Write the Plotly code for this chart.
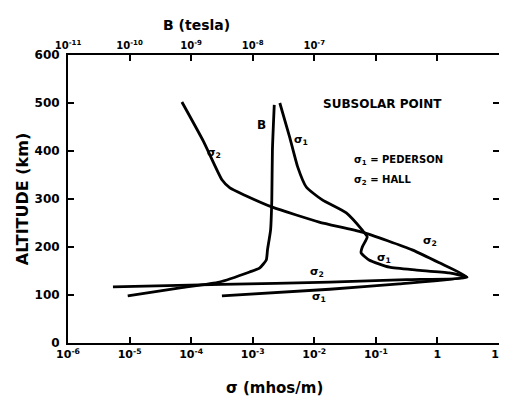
import plotly.graph_objects as go

# Hall conductivity sigma2 (mhos/m) vs altitude (km)
hall_alt = [502, 420, 340, 323, 308, 283, 252, 231, 194, 167, 137, 132, 127, 122, 117]
hall_sig = [10**-4.15, 10**-3.8, 10**-3.5, 10**-3.37, 10**-3.13, 10**-2.68, 10**-1.92, 10**-1.22,
            10**-0.41, 10**0.03, 10**0.48, 10**-0.5, 10**-1.75, 10**-3.5, 10**-5.27]

# Pedersen conductivity sigma1
ped_alt = [500, 429, 367, 325, 298, 271, 235, 221, 200, 188, 173, 158, 152, 146, 137, 123, 112, 98]
ped_sig = [10**-2.56, 10**-2.40, 10**-2.27, 10**-2.13, 10**-1.87, 10**-1.48, 10**-1.22, 10**-1.14,
           10**-1.22, 10**-1.24, 10**-1.11, 10**-0.78, 10**-0.34, 10**0.19, 10**0.48, 10**-0.62,
           10**-1.75, 10**-3.5]

# Magnetic field B (tesla)
b_alt = [496, 402, 298, 235, 194, 173, 156, 148, 127, 115, 98]
b_val = [10**-7.65, 10**-7.68, 10**-7.69, 10**-7.71, 10**-7.76, 10**-7.78, 10**-7.89, 10**-8.05,
         10**-8.54, 10**-9.18, 10**-10.03]

sig_ticks = [1e-6, 1e-5, 1e-4, 1e-3, 1e-2, 1e-1, 1, 10]
sig_labels = ["10<sup>-6</sup>", "10<sup>-5</sup>", "10<sup>-4</sup>", "10<sup>-3</sup>",
              "10<sup>-2</sup>", "10<sup>-1</sup>", "1", "10"]
b_ticks = [1e-11, 1e-10, 1e-9, 1e-8, 1e-7, 1e-6, 1e-5]
b_labels = ["10<sup>-11</sup>", "10<sup>-10</sup>", "10<sup>-9</sup>", "10<sup>-8</sup>",
            "10<sup>-7</sup>", "", ""]
alt_ticks = [0, 100, 200, 300, 400, 500, 600]

FONT = "DejaVu Sans"
lw = 2.8

fig = go.Figure()
for xs, ys, ax in [(hall_sig, hall_alt, "x"), (ped_sig, ped_alt, "x"), (b_val, b_alt, "x2")]:
    fig.add_trace(go.Scatter(x=xs, y=ys, mode="lines",
                             line=dict(color="black", width=lw, shape="spline", smoothing=0.5),
                             xaxis=ax, yaxis="y"))

ann = []
def lab(text, x, y, size=11, xanchor="center"):
    ann.append(dict(text=text, x=x, y=y, xref="x", yref="y", showarrow=False,
                    font=dict(family=FONT, size=size, color="black", weight="bold"), xanchor=xanchor))

lab("σ<sub>2</sub>", -3.63, 396)
lab("σ<sub>1</sub>", -2.22, 423)
lab("B", -2.86, 454, size=12)
lab("SUBSOLAR POINT", -0.89, 497, size=12)
lab("σ<sub>1</sub> = PEDERSON", -1.38, 381, size=10, xanchor="left")
lab("σ<sub>2</sub> = HALL", -1.38, 338, size=10, xanchor="left")
lab("σ<sub>2</sub>", -0.12, 212)
lab("σ<sub>1</sub>", -0.86, 177)
lab("σ<sub>2</sub>", -1.95, 148)
lab("σ<sub>1</sub>", -1.92, 96)

ann.append(dict(text="σ (mhos/m)", x=0.48, y=-0.156, xref="paper", yref="paper", showarrow=False,
                font=dict(family=FONT, size=15, color="black", weight="bold"),
                xanchor="center", yanchor="middle"))
ann.append(dict(text="B (tesla)", x=0.297, y=1.104, xref="paper", yref="paper", showarrow=False,
                font=dict(family=FONT, size=14, color="black", weight="bold"),
                xanchor="center", yanchor="middle"))

fig.update_layout(
    width=499, height=394,
    margin=dict(l=60, r=8, t=47, b=59),
    paper_bgcolor="white", plot_bgcolor="white",
    showlegend=False,
    font=dict(family=FONT, color="black"),
    annotations=ann,
    xaxis=dict(type="log", range=[-6, 1], tickvals=sig_ticks, ticktext=sig_labels, automargin=False,
               ticks="inside", ticklen=6, tickwidth=2, tickcolor="black",
               showline=True, linecolor="black", linewidth=2, showgrid=False, zeroline=False,
               tickfont=dict(family=FONT, size=11, color="black", weight="bold")),
    xaxis2=dict(type="log", range=[-11, -4], overlaying="x", side="top", anchor="y", automargin=False,
                tickvals=b_ticks, ticktext=b_labels,
                ticks="inside", ticklen=6, tickwidth=2, tickcolor="black",
                showline=True, linecolor="black", linewidth=2, showgrid=False, zeroline=False,
                tickfont=dict(family=FONT, size=10, color="black", weight="bold")),
    yaxis=dict(range=[0, 600], tickvals=alt_ticks, ticks="inside", ticklen=6, tickwidth=2, automargin=False,
               tickcolor="black", showline=True, linecolor="black", linewidth=2, mirror="ticks",
               showgrid=False, zeroline=False, ticklabelstandoff=4,
               title=dict(text="ALTITUDE (km)", font=dict(family=FONT, size=16, color="black", weight="bold"), standoff=2),
               tickfont=dict(family=FONT, size=12, color="black", weight="bold")),
)

fig.write_html("out.html")
